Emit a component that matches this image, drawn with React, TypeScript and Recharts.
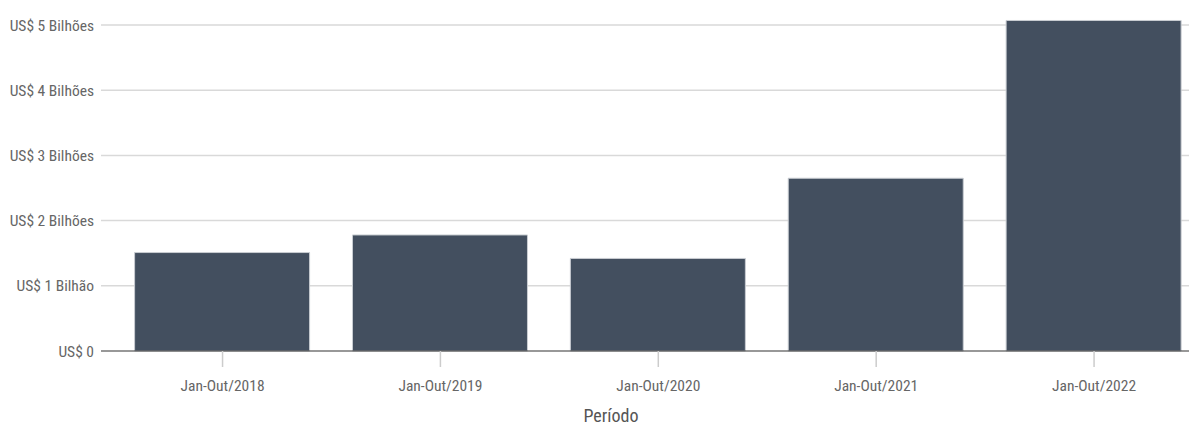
import { BarChart, Bar, XAxis, YAxis, CartesianGrid } from "recharts";

const periods = ["Jan-Out/2018", "Jan-Out/2019", "Jan-Out/2020", "Jan-Out/2021", "Jan-Out/2022"];
const values = [1.51, 1.78, 1.42, 2.65, 5.07];
const yTicks = [0, 1, 2, 3, 4, 5];
const yLabels = ["US$ 0", "US$ 1 Bilhão", "US$ 2 Bilhões", "US$ 3 Bilhões", "US$ 4 Bilhões", "US$ 5 Bilhões"];

const FONT = "'Liberation Sans Narrow', 'Roboto Condensed', Arial, sans-serif";

export default function App() {
  const data = periods.map((p, i) => ({ period: p, value: values[i] }));

  return (
    <div style={{ position: "fixed", left: 0, top: 0, width: 1189, height: 427, overflow: "hidden", background: "#fff" }}>
      <BarChart
        width={1203}
        height={427}
        data={data}
        margin={{ top: 12, right: 0, left: 0, bottom: 0 }}
        style={{ fontFamily: FONT }}
      >
        <CartesianGrid vertical={false} horizontalValues={[1, 2, 3, 4, 5]} stroke="#d9d9d9" strokeWidth={1.5} />
        <XAxis
          dataKey="period"
          height={76}
          padding={{ left: 12.6, right: 0 }}
          axisLine={{ stroke: "#333", strokeWidth: 1.2 }}
          tickLine={{ stroke: "#ccc", strokeWidth: 1.5 }}
          tickSize={16}
          tickMargin={13}
          tick={{ fontSize: 15.5, fill: "#666", fontFamily: FONT }}
          label={{
            value: "Período",
            content: (props: any) => {
              const vb = props.viewBox;
              return (
                <text
                  x={vb.x + vb.width / 2 - 41}
                  y={422}
                  textAnchor="middle"
                  fontSize={18}
                  fill="#555"
                  fontFamily={FONT}
                >
                  Período
                </text>
              );
            },
          }}
        />
        <YAxis
          width={101}
          domain={[0, 5.2]}
          ticks={yTicks}
          interval={0}
          axisLine={false}
          tickLine={false}
          tickSize={0}
          tickMargin={7}
          tick={{ fontSize: 15.5, fill: "#666", fontFamily: FONT }}
          tickFormatter={(v: number) => yLabels[yTicks.indexOf(v)]}
        />
        <Bar dataKey="value" barSize={175} fill="#434f5f" stroke="#c9cdd2" strokeWidth={1} isAnimationActive={false} />
      </BarChart>
    </div>
  );
}
